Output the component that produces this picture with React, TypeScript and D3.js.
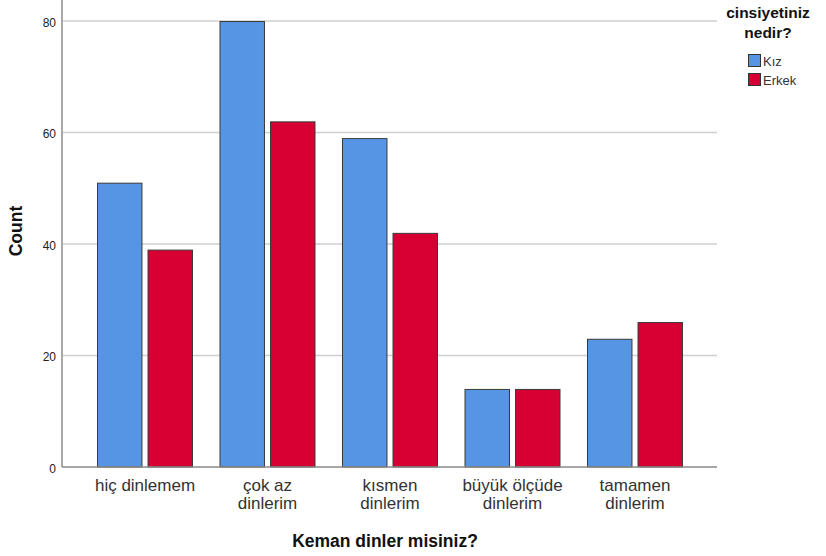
import React from "react";
import * as d3 from "d3";

const categories = ["hiç dinlemem", "çok az dinlerim", "kısmen dinlerim", "büyük ölçüde dinlerim", "tamamen dinlerim"];
const categoryLines = [["hiç dinlemem"], ["çok az", "dinlerim"], ["kısmen", "dinlerim"], ["büyük ölçüde", "dinlerim"], ["tamamen", "dinlerim"]];
const seriesNames = ["Kız", "Erkek"];
const kizValues = [51, 80, 59, 14, 23];
const erkekValues = [39, 62, 42, 14, 26];
const yTicks = [0, 20, 40, 60, 80];
const colors = ["#5595E4", "#D60032"];

export default function App() {
  const W = 826, H = 556;
  const axisX = 62, axisRight = 717, baseY = 467;
  const y = d3.scaleLinear().domain([0, 83.77]).range([baseY, 0]);
  const x = d3.scaleBand().domain(categories).range([83.75, 696.25]).paddingInner(0).paddingOuter(0);
  const inner = d3.scaleBand().domain(seriesNames).range([13.25, 109.25]).paddingInner(0.1);
  const series = [kizValues, erkekValues];
  const font = "Arial, 'Liberation Sans', sans-serif";
  return (
    <svg width={W} height={H} style={{ position: "absolute", left: 0, top: 0, background: "#fff" }} fontFamily={font}>
      {yTicks.filter(t => t > 0).map(t => (
        <line key={t} x1={axisX} x2={axisRight} y1={y(t)} y2={y(t)} stroke="#cfcfcf" strokeWidth={1.5} />
      ))}
      {yTicks.map(t => (
        <text key={"l" + t} x={56} y={y(t) + 5.5} textAnchor="end" fontSize={12} fill="#222">{t}</text>
      ))}
      {categories.map((c, i) =>
        series.map((vals, s) => (
          <rect key={c + s} x={(x(c) as number) + (inner(seriesNames[s]) as number) + 0.5} y={y(vals[i]) + 0.5}
            width={inner.bandwidth() - 1} height={baseY - y(vals[i]) - 0.5}
            fill={colors[s]} stroke="#3a3a3a" strokeWidth={1} />
        ))
      )}
      <line x1={axisX} x2={axisX} y1={0} y2={baseY} stroke="#a8a8a8" strokeWidth={2} />
      <line x1={axisX} x2={axisRight} y1={baseY} y2={baseY} stroke="#8a8a8a" strokeWidth={1.5} />
      {categories.map((c, i) => (
        <text key={"c" + c} x={(x(c) as number) + x.bandwidth() / 2} textAnchor="middle" fontSize={17} fill="#333">
          {categoryLines[i].map((ln, j) => (
            <tspan key={j} x={(x(c) as number) + x.bandwidth() / 2} y={491 + j * 18}>{ln}</tspan>
          ))}
        </text>
      ))}
      <text x={385} y={547} textAnchor="middle" fontSize={17.5} fontWeight="bold" fill="#111">Keman dinler misiniz?</text>
      <text transform={`translate(22,${231}) rotate(-90)`} textAnchor="middle" fontSize={17.5} fontWeight="bold" fill="#111">Count</text>
      <text x={768} y={18} textAnchor="middle" fontSize={15.5} fontWeight="bold" fill="#111">cinsiyetiniz</text>
      <text x={768} y={38} textAnchor="middle" fontSize={15.5} fontWeight="bold" fill="#111">nedir?</text>
      {seriesNames.map((n, i) => (
        <g key={n}>
          <rect x={748.5} y={54.5 + i * 19} width={12} height={12} fill={colors[i]} stroke="#333" strokeWidth={1} />
          <text x={763} y={65.5 + i * 19} fontSize={13} fill="#333">{n}</text>
        </g>
      ))}
    </svg>
  );
}
